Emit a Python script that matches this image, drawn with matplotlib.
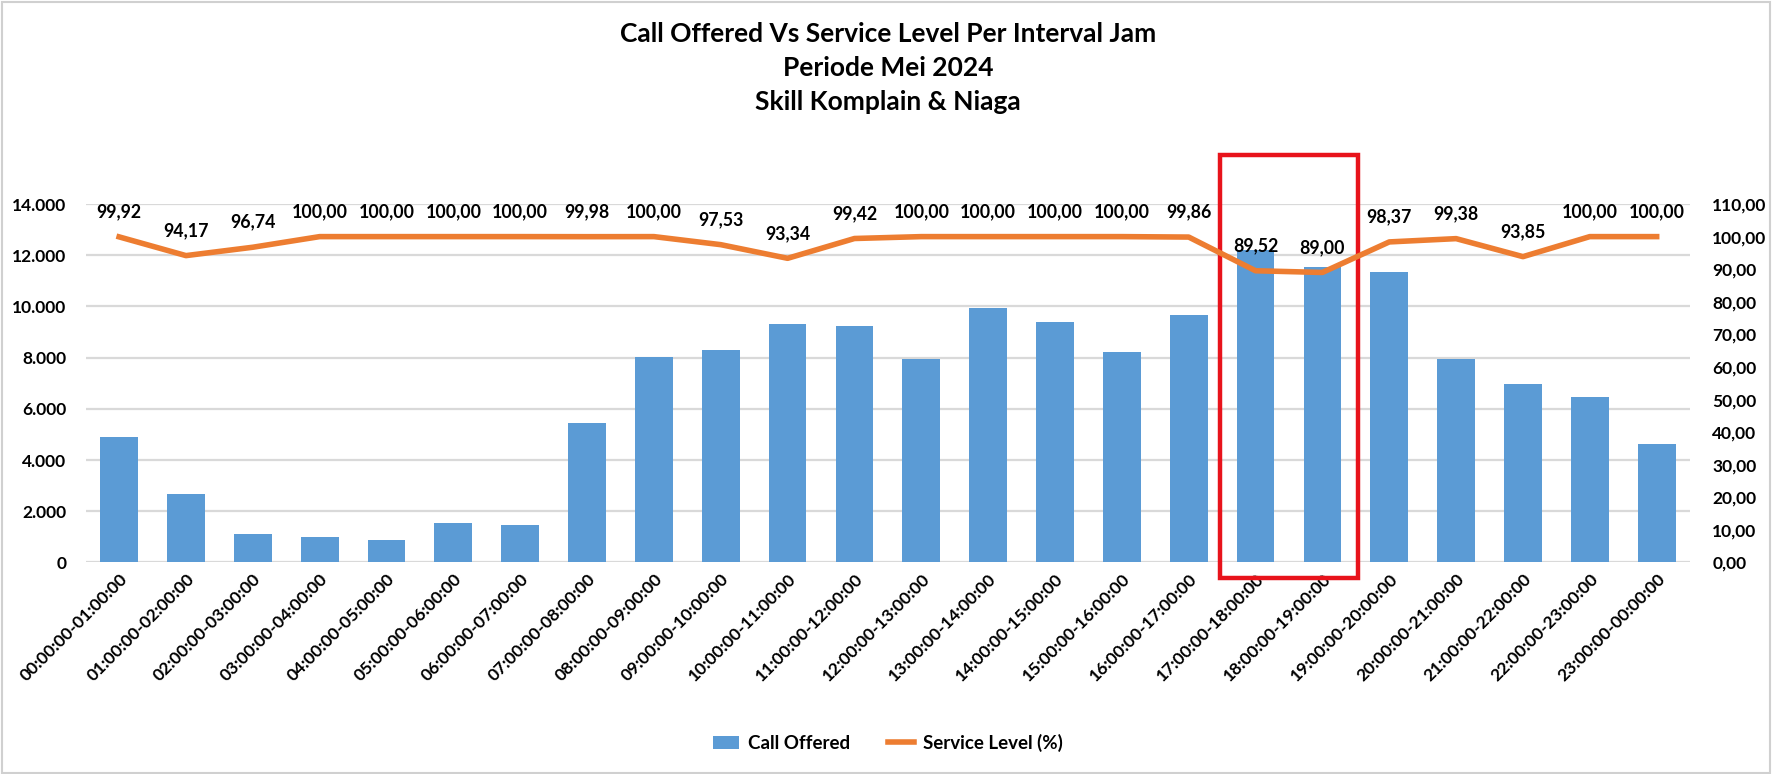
import numpy as np
import matplotlib.pyplot as plt
from matplotlib.patches import Patch, Rectangle
from matplotlib.lines import Line2D
from matplotlib.ticker import FuncFormatter

plt.rcParams['font.family'] = ['Lato', 'DejaVu Sans']
plt.rcParams['font.weight'] = 'bold'

# data
intervals = [f"{h:02d}:00:00-{(h + 1) % 24:02d}:00:00" for h in range(24)]
call_offered = [4900, 2690, 1120, 1000, 880, 1550, 1470, 5460, 8030, 8310,
                9320, 9250, 7960, 9950, 9400, 8230, 9670, 12220, 11540, 11360,
                7930, 6960, 6450, 4610]
service_level = [99.92, 94.17, 96.74, 100.00, 100.00, 100.00, 100.00, 99.98,
                 100.00, 97.53, 93.34, 99.42, 100.00, 100.00, 100.00, 100.00,
                 99.86, 89.52, 89.00, 98.37, 99.38, 93.85, 100.00, 100.00]
highlight = ['17:00:00-18:00:00', '18:00:00-19:00:00']

title = 'Call Offered Vs Service Level Per Interval Jam\nPeriode Mei 2024\nSkill Komplain & Niaga'

bar_color = '#5B9BD5'
line_color = '#ED7D31'
grid_color = '#D9D9D9'

fig = plt.figure(figsize=(17.74, 7.74), dpi=100, facecolor='white')
ax = fig.add_axes([0.0483, 0.2733, 0.9044, 0.4631])
ax2 = ax.twinx()

x = np.arange(len(intervals))
ax.bar(x, call_offered, width=0.565, color=bar_color, zorder=2)
ax.set_ylim(0, 14000)
ax.set_yticks(np.arange(0, 14001, 2000))
ax.yaxis.set_major_formatter(FuncFormatter(lambda v, p: f"{int(v):,}".replace(',', '.')))
ax.set_xlim(-0.5, len(intervals) - 0.5)
ax.set_xticks(x)
ax.set_xticklabels(intervals, rotation=45, ha='right', rotation_mode='anchor',
                   fontsize=12.5, fontweight='bold')
ax.grid(axis='y', color=grid_color, linewidth=1.6, zorder=0)
ax.set_axisbelow(True)

ax2.plot(x, service_level, color=line_color, linewidth=4.0, solid_joinstyle='round', zorder=3)
ax2.set_ylim(0, 110)
ax2.set_yticks(np.arange(0, 111, 10))
ax2.yaxis.set_major_formatter(FuncFormatter(lambda v, p: f"{v:.2f}".replace('.', ',')))
for xi, v in zip(x, service_level):
    ax2.annotate(f"{v:.2f}".replace('.', ','), (xi, v), xytext=(0, 18),
                 textcoords='offset points', ha='center', va='center',
                 fontsize=12.8, fontweight='bold', color='black')

for a in (ax, ax2):
    for s in a.spines.values():
        s.set_visible(False)
    a.tick_params(length=0, labelsize=12.5, colors='black')
ax.tick_params(axis='y', pad=14)
ax2.tick_params(axis='y', pad=16)
ax.tick_params(axis='x', pad=6, labelsize=12.5)
for lbl in ax.get_yticklabels() + ax2.get_yticklabels():
    lbl.set_fontweight('bold')

# highlight box around selected intervals
i0 = intervals.index(highlight[0])
i1 = intervals.index(highlight[-1])
box = Rectangle((i0 - 0.53, -590), (i1 - i0) + 1.06, 16500, fill=False,
                edgecolor='#E8131B', linewidth=3.2, clip_on=False, zorder=5)
ax.add_patch(box)

fig.text(0.5005, 0.972, title, ha='center', va='top', fontsize=19,
         fontweight='bold', linespacing=1.5)

handles = [Patch(facecolor=bar_color, label='Call Offered'),
           Line2D([0], [0], color=line_color, linewidth=4.0, label='Service Level (%)')]
fig.legend(handles=handles, loc='center', bbox_to_anchor=(0.5005, 0.04), ncol=2,
           frameon=False, prop={'size': 13.5, 'weight': 'bold'}, handlelength=1.4,
           handletextpad=0.5, columnspacing=2.0)

fig.patches.append(Rectangle((0.001, 0.001), 0.997, 0.997, transform=fig.transFigure,
                             fill=False, edgecolor='#D0D0D0', linewidth=1.5))

fig.savefig('out.png', dpi=100, facecolor='white')
